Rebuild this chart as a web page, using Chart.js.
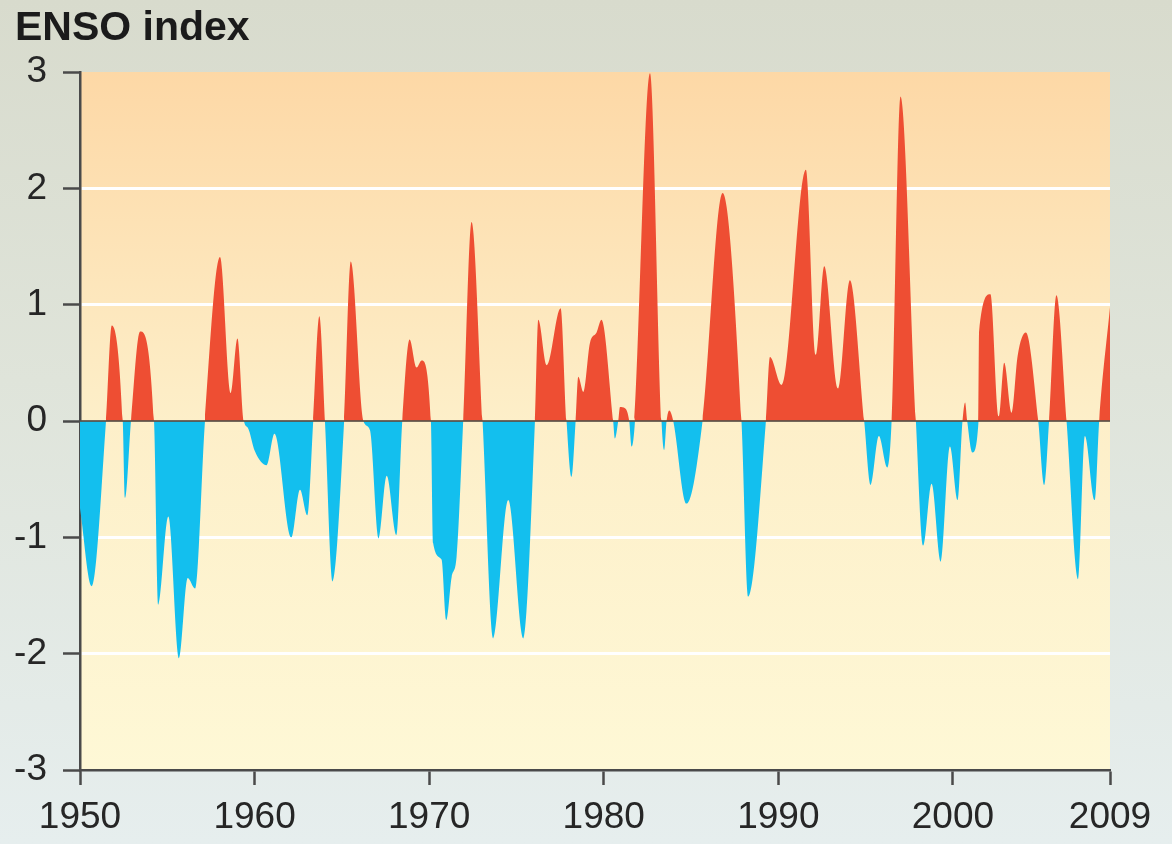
<!DOCTYPE html>
<html>
<head>
<meta charset="utf-8">
<script src="https://cdn.jsdelivr.net/npm/chart.js@4/dist/chart.umd.min.js"></script>
<style>
  html, body { margin: 0; padding: 0; }
  body {
    width: 1172px; height: 844px; overflow: hidden; position: relative;
    background: linear-gradient(to bottom, #d8dbcd 0%, #dfe4da 45%, #e6eeee 100%);
    font-family: "Liberation Sans", Arial, sans-serif;
  }
  #title {
    position: absolute; left: 15px; top: 6px;
    font-size: 41px; line-height: 40px; font-weight: bold; color: #1b1b1b;
  }
  #wrap { position: absolute; left: 0; top: 0; width: 1172px; height: 844px; }
</style>
</head>
<body>
<div id="wrap"><canvas id="c" width="1172" height="844"></canvas></div>
<div id="title">ENSO index</div>
<script>
// ---- data (year, ENSO index) ----
const years = [
  1950.00, 1950.67, 1951.49, 1951.82, 1952.45, 1952.58, 1952.92, 1953.44,
  1954.24, 1954.48, 1955.06, 1955.67, 1956.17, 1956.59, 1957.16, 1958.02, 1958.63, 1959.02,
  1959.39, 1959.62, 1960.02, 1960.69, 1961.14, 1962.11, 1962.60, 1963.02, 1963.36, 1963.71,
  1964.03, 1964.46, 1965.13, 1965.51, 1966.23, 1966.61, 1967.11, 1967.57, 1968.12, 1968.46,
  1968.88, 1969.28, 1969.57, 1970.10, 1970.23, 1970.71, 1970.98, 1971.29, 1971.57, 1971.95,
  1972.43, 1973.06, 1973.67, 1974.53, 1975.39, 1976.06, 1976.25, 1976.73, 1977.53, 1977.87,
  1978.15, 1978.39, 1978.54, 1978.83, 1979.21, 1979.59, 1979.87, 1980.54, 1980.64, 1980.83,
  1980.93, 1981.22, 1981.46, 1981.60, 1981.79, 1982.65, 1983.31, 1983.46, 1983.60, 1983.75,
  1983.98, 1984.75, 1985.66, 1986.81, 1987.89, 1988.27, 1989.29, 1989.52,
  1990.18, 1991.58, 1992.15, 1992.63, 1993.43, 1994.10, 1994.92, 1995.28, 1995.76, 1996.24,
  1996.49, 1997.00, 1997.88, 1998.30, 1998.78, 1999.31, 1999.83, 2000.27, 2000.55, 2000.70,
  2000.82, 2001.12, 2001.47, 2001.50, 2002.15, 2002.63, 2002.94, 2003.36, 2003.71, 2004.18,
  2004.89, 2005.23, 2005.51, 2005.93, 2006.51, 2007.17, 2007.56, 2008.13, 2008.38, 2009.00
];
const ensoIndex = [
  -0.75, -1.42, 0.00, 0.82, 0.00, -0.66, 0.00, 0.77,
  0.00, -1.58, -0.82, -2.04, -1.35, -1.44, 0.00, 1.41, 0.24, 0.71,
  0.00, -0.06, -0.26, -0.38, -0.11, -1.00, -0.59, -0.81, 0.00, 0.90,
  0.00, -1.38, 0.00, 1.37, 0.00, -0.08, -1.01, -0.47, -0.98, 0.00,
  0.70, 0.46, 0.52, 0.00, -1.05, -1.19, -1.71, -1.34, -1.17, 0.00,
  1.71, 0.00, -1.87, -0.68, -1.87, 0.00, 0.87, 0.48, 0.97, 0.00,
  -0.48, 0.00, 0.38, 0.25, 0.67, 0.76, 0.87, 0.00, -0.15, 0.00,
  0.12, 0.11, 0.00, -0.22, 0.00, 2.99, 0.00, -0.25, 0.00, 0.09,
  0.00, -0.71, 0.00, 1.96, 0.00, -1.51, 0.00, 0.55,
  0.31, 2.16, 0.57, 1.33, 0.28, 1.21, 0.00, -0.55, -0.13, -0.40,
  0.00, 2.79, 0.00, -1.07, -0.54, -1.21, -0.22, -0.68, 0.00, 0.16,
  0.00, -0.27, 0.00, 0.77, 1.09, 0.04, 0.50, 0.07, 0.56, 0.76,
  0.00, -0.55, 0.00, 1.08, 0.00, -1.36, -0.13, -0.68, 0.00, 0.98
];
const xTickYears = [1950, 1960, 1970, 1980, 1990, 2000, 2009];
const yTickValues = [-3, -2, -1, 0, 1, 2, 3];

const RED = '#ee4e33';
const BLUE = '#13bfee';
const AXIS = '#4a4a4a';
const FONT = '"Liberation Sans", Arial, sans-serif';

const plotBg = {
  id: 'plotBg',
  beforeDraw(chart) {
    const a = chart.chartArea, ctx = chart.ctx;
    const g = ctx.createLinearGradient(0, a.top, 0, a.bottom);
    g.addColorStop(0, '#fdd8a6');
    g.addColorStop(0.5, '#fdefc9');
    g.addColorStop(1, '#fef8d6');
    ctx.save();
    ctx.fillStyle = g;
    ctx.fillRect(a.left, a.top, a.right - a.left, a.bottom - a.top);
    ctx.restore();
  }
};
const zeroLine = {
  id: 'zeroLine',
  afterDatasetsDraw(chart) {
    const a = chart.chartArea, ctx = chart.ctx;
    const y = chart.scales.y.getPixelForValue(0);
    ctx.save();
    ctx.strokeStyle = 'rgba(90,80,70,0.85)';
    ctx.lineWidth = 2;
    ctx.beginPath();
    ctx.moveTo(a.left, y);
    ctx.lineTo(a.right, y);
    ctx.stroke();
    ctx.restore();
  }
};

new Chart(document.getElementById('c'), {
  type: 'line',
  data: {
    datasets: [{
      data: years.map((x, i) => ({ x: x, y: ensoIndex[i] })),
      borderWidth: 0,
      borderColor: 'rgba(0,0,0,0)',
      pointRadius: 0,
      cubicInterpolationMode: 'monotone',
      fill: { target: { value: 0 }, above: RED, below: BLUE }
    }]
  },
  options: {
    responsive: false,
    devicePixelRatio: 1,
    animation: false,
    layout: { padding: { top: 72, right: 62, left: 0, bottom: 0 } },
    plugins: { legend: { display: false }, tooltip: { enabled: false }, title: { display: false } },
    scales: {
      x: {
        type: 'linear', min: 1950, max: 2009,
        afterBuildTicks(s) { s.ticks = xTickYears.map(v => ({ value: v })); },
        afterFit(s) { s.height = 74; },
        grid: { drawOnChartArea: false, drawTicks: true, tickLength: 15, tickColor: AXIS, tickWidth: 2.5 },
        border: { display: true, color: AXIS, width: 2.5 },
        ticks: {
          color: '#262626', font: { family: FONT, size: 37 }, padding: 11,
          maxRotation: 0, autoSkip: false,
          callback: v => String(v)
        }
      },
      y: {
        min: -3, max: 3,
        afterBuildTicks(s) { s.ticks = yTickValues.map(v => ({ value: v })); },
        afterFit(s) { s.width = 80; },
        grid: {
          drawTicks: true, tickLength: 17, tickColor: AXIS, tickWidth: 2.5,
          lineWidth: 3,
          color: c => (c.tick && (c.tick.value === 0 || Math.abs(c.tick.value) === 3)) ? 'rgba(0,0,0,0)' : '#ffffff'
        },
        border: { display: true, color: AXIS, width: 2.5 },
        ticks: {
          color: '#262626', font: { family: FONT, size: 37 }, padding: 16,
          callback: v => String(v)
        }
      }
    }
  },
  plugins: [plotBg, zeroLine]
});
</script>
</body>
</html>
